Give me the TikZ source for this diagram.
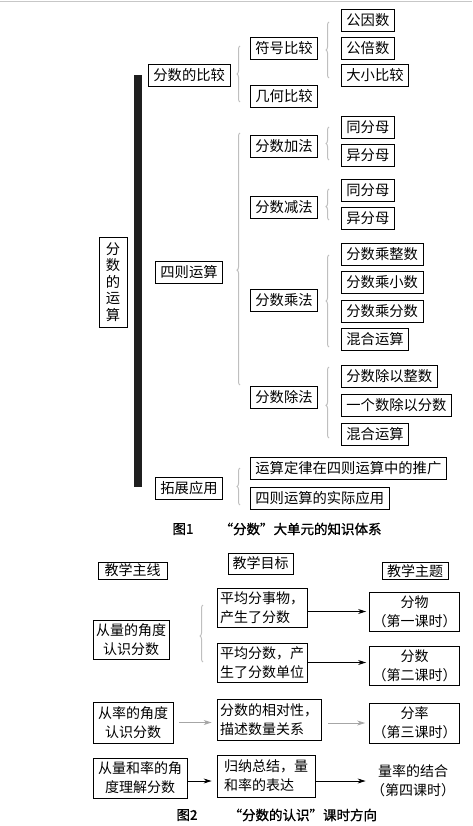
\documentclass[tikz,border=0pt]{standalone}
\usepackage{fontspec}
\setmainfont{Noto Sans CJK SC}
\newfontfamily\capfont[FakeBold=1.2]{Noto Sans CJK SC}
\usepackage{tikz}
\usetikzlibrary{arrows.meta,decorations.pathreplacing}

\begin{document}
\begin{tikzpicture}[x=1pt,y=-1pt]
	\tikzstyle{box} = [draw, line width=0.8pt, inner xsep=5pt, inner ysep=0pt, minimum height=22pt, anchor=west, font=\fontsize{14.3pt}{16.5pt}\selectfont];
	\tikzstyle{tbox} = [draw, line width=0.8pt, inner xsep=3pt, inner ysep=1pt, align=center, font=\fontsize{14pt}{19pt}\selectfont];
	\tikzstyle{brc} = [draw=black!25, line width=1pt, decorate, decoration={brace, amplitude=3pt}];
	\tikzstyle{arr} = [line width=0.8pt, -{Stealth[length=8pt,width=5pt]}];
	\tikzstyle{garr} = [arr, draw=black!35];
	\tikzstyle{captxt} = [font=\capfont\fontsize{13.5pt}{15pt}\selectfont];
	
	\useasboundingbox (0,0) rectangle (472,826);
	\draw[black!22, line width=1.5pt] (0,1.5) -- (472,1.5);
	
	% figure 1
	\fill[black!88] (134,75) rectangle (142,487);
	\node[box, anchor=center, minimum width=28pt, minimum height=90pt, inner xsep=0pt, align=center] (R) at (113,282) {分\\数\\的\\运\\算};
	
	\node[box] (B1) at (148,75.5) {分数的比较};
	\node[box] (B2) at (155,272) {四则运算};
	\node[box] (B3) at (155,488) {拓展应用};
	
	\node[box] (C1) at (250,48.5) {符号比较};
	\node[box] (C2) at (250,96.5) {几何比较};
	\node[box] (C3) at (250,146.5) {分数加法};
	\node[box] (C4) at (250,207.5) {分数减法};
	\node[box] (C5) at (250,300.5) {分数乘法};
	\node[box] (C6) at (250,397.5) {分数除法};
	\node[box] (C7) at (250,468) {运算定律在四则运算中的推广};
	\node[box] (C8) at (250,498) {四则运算的实际应用};
	
	\node[box] (D1) at (341,20.5) {公因数};
	\node[box] (D2) at (341,48.5) {公倍数};
	\node[box] (D3) at (341,75.5) {大小比较};
	\node[box] (D4) at (341,127.5) {同分母};
	\node[box] (D5) at (341,155.5) {异分母};
	\node[box] (D6) at (341,190) {同分母};
	\node[box] (D7) at (341,218) {异分母};
	\node[box] (D8) at (341,254) {分数乘整数};
	\node[box] (D9) at (341,282.5) {分数乘小数};
	\node[box] (D10) at (341,311.5) {分数乘分数};
	\node[box] (D11) at (341,339.5) {混合运算};
	\node[box] (D12) at (341,376) {分数除以整数};
	\node[box] (D13) at (341,405) {一个数除以分数};
	\node[box] (D14) at (341,434) {混合运算};
	
	\draw[brc] (240,102) -- (240,46);
	\draw[brc, decoration={aspect=0.456}] (240,385) -- (240,133);
	\draw[brc] (240,505) -- (240,468);
	\draw[brc] (329,78) -- (329,22);
	\draw[brc] (329,160) -- (329,127);
	\draw[brc, decoration={aspect=0.43}] (329,220) -- (329,189);
	\draw[brc] (329,347) -- (329,255);
	\draw[brc, decoration={aspect=0.46}] (329,438) -- (329,367);
	
	\node[captxt] (F1) at (183,529) {图1};
	\node[captxt, anchor=west] (F1t) at (216,529) {“分数”大单元的知识体系};
	
	% figure 2
	\node[tbox, minimum width=69pt, minimum height=17pt] (H1) at (132.5,570.5) {教学主线};
	\node[tbox, minimum width=65pt, minimum height=21pt] (H2) at (260.5,563.5) {教学目标};
	\node[tbox, minimum width=66pt, minimum height=17pt] (H3) at (415,571) {教学主题};
	
	\node[tbox, minimum width=76pt, minimum height=39pt] (M1) at (131,639.5) {从量的角度\\认识分数};
	\node[tbox, minimum width=80pt, minimum height=41pt] (M2) at (133,722.5) {从率的角度\\认识分数};
	\node[tbox, minimum width=94pt, minimum height=40pt] (M3) at (140,778) {从量和率的角\\度理解分数};
	
	\node[tbox, align=left, minimum width=90pt, minimum height=39pt] (G1) at (262,607.5) {平均分事物，\\产生了分数};
	\node[tbox, align=left, minimum width=90pt, minimum height=39pt] (G2) at (262,662.5) {平均分数，产\\生了分数单位};
	\node[tbox, align=left, minimum width=104pt, minimum height=41pt] (G3) at (269,719.5) {分数的相对性，\\描述数量关系};
	\node[tbox, align=left, minimum width=98pt, minimum height=42pt] (G4) at (266,776) {归纳总结，量\\和率的表达};
	
	\node[tbox, minimum width=89pt, minimum height=39pt] (T1) at (414.5,611.5) {分物\\（第一课时）};
	\node[tbox, minimum width=89pt, minimum height=39pt] (T2) at (414.5,665.5) {分数\\（第二课时）};
	\node[tbox, minimum width=89pt, minimum height=40pt] (T3) at (414.5,723) {分率\\（第三课时）};
	\node[tbox, draw=none] (T4) at (413,781) {量率的结合\\（第四课时）};
	
	\draw[brc, decoration={aspect=0.456}] (203,662) -- (203,605);
	
	\path (G1.east |- T1) edge[arr, shorten >=3pt] (T1);
	\path (G2) edge[arr, shorten >=3pt] (G2 -| T2.west);
	\path (M2) edge[garr, shorten <=6pt, shorten >=5pt] (M2 -| G3.west);
	\path (G3.east |- T3) edge[garr, shorten <=7pt, shorten >=4pt] (T3);
	\path (M3.east |- T4) edge[arr, shorten >=5pt] (G4.west |- T4);
	\path (G4.east |- T4) edge[arr, shorten >=2pt] (T4);
	
	\node[captxt] (F2) at (187,815) {图2};
	\node[captxt, anchor=west] (F2t) at (225,815) {“分数的认识”课时方向};
\end{tikzpicture}
\end{document}
